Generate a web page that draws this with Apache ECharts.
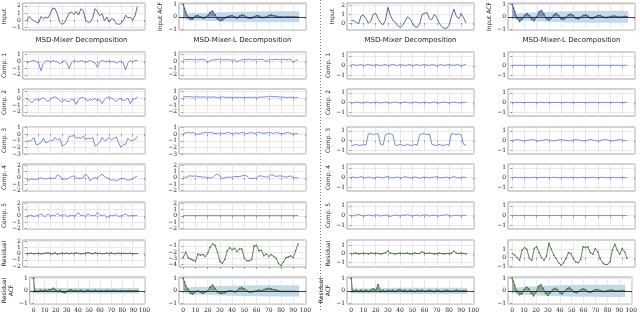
<!DOCTYPE html>
<html lang="en">
<head>
  <meta charset="UTF-8" />
  <title>MSD-Mixer decomposition</title>
  <script src="https://cdn.jsdelivr.net/npm/echarts@6/dist/echarts.min.js"></script>
  <style>html,body{margin:0;padding:0;background:#fff}</style>
</head>
<body>
  <div id="main" style="width:640px;height:328px;"></div>
  <script type="text/javascript">
    // sample positions (every 2nd step) and ACF lags
    const xs = Array.from({ length: 48 }, (_, i) => i * 2)
    const lags = [0, 1].concat(Array.from({ length: 47 }, (_, i) => (i + 1) * 2))
    const bandLags = [1, 2, 4, 8, 16, 24, 32, 48, 64, 80, 95]
    const xTicks = [0, 10, 20, 30, 40, 50, 60, 70, 80, 90, 100]

    // ---- example 1, MSD-Mixer (column 1)
    const aInput = [0.0, 0.5, 0.1, -0.1, -0.3, -0.4, 0.5, 0.2, 0.4, 0.3, 0.9, 1.7, 1.6, 0.8, -0.3, -0.6, -0.4, 0.3, 1.0, 1.1, 0.8, 1.2, 0.7, 1.6, 1.3, 0.0, -0.3, -0.3, 0.3, 1.6, 1.2, 0.6, 0.9, -0.1, 0.4, -0.3, 0.2, 0.1, -0.5, -0.6, -0.5, -0.1, 0.7, 0.3, 0.4, 0.0, 0.6, 1.9]
    const aComp1 = [-0.2, -0.1, 0.05, 0.1, -0.1, -0.3, -1.4, -0.3, 0.0, 0.1, -0.1, 0.1, 0.0, -0.1, -0.4, -0.1, 0.1, -0.2, -1.1, -0.2, 0.1, 0.0, -0.1, 0.1, 0.0, -0.2, 0.0, 0.1, -0.1, -0.2, -0.9, -0.1, 0.1, 0.0, -0.1, 0.1, -0.1, 0.0, -0.3, -0.1, 0.0, -0.2, -1.3, -0.2, 0.1, -0.1, 0.1, 0.1]
    const aComp2 = [0.0, -0.3, -0.7, -0.3, -0.1, -0.4, -0.1, 0.1, -0.2, -0.5, -0.2, 0.1, 0.2, 0.0, -0.3, -0.6, -0.2, -0.4, -0.5, -0.1, -0.3, -0.9, -0.2, 0.1, 0.1, -0.2, -0.4, -0.1, -0.3, 0.0, -0.4, -0.2, -0.8, -0.2, 0.1, 0.2, 0.0, -0.2, -0.5, -0.1, 0.0, -0.4, -0.2, 0.0, -0.8, -0.2, -0.1, 0.2]
    const aComp3 = [-1.0, -1.1, -0.9, -0.5, -1.6, -1.5, -1.3, -0.6, -1.3, -1.2, -0.9, -1.0, -0.5, -0.9, -0.6, -1.8, -1.6, -1.3, -0.3, -0.3, -0.2, -0.6, -0.5, -0.6, -0.3, -0.8, -0.6, -0.7, -0.5, -1.8, -1.6, -1.2, -0.5, -1.0, -0.8, -0.5, -0.9, -0.6, -0.4, -1.3, -2.0, -1.6, -1.5, -0.6, -1.0, -0.9, -0.8, -0.3]
    const aComp4 = [-0.5, -0.3, -0.2, -0.2, -0.3, -0.1, 0.0, -0.1, -0.2, -0.1, 0.0, -0.1, -0.1, 0.5, 0.3, -0.3, -0.2, -0.2, 0.0, 0.2, 0.3, 0.0, -0.1, -0.1, 0.0, 0.6, 0.2, -0.5, -0.1, 0.0, 0.0, 0.3, 0.6, 0.2, 0.0, -0.2, -0.4, -0.3, -0.5, -0.3, -0.1, -0.1, -0.2, -0.4, -0.3, -0.2, 0.1, 0.3]
    const aComp5 = [0.0, 0.0, 0.1, -0.1, 0.0, 0.1, 0.3, 0.0, -0.1, 0.3, 0.0, 0.1, 0.0, 0.4, 0.0, 0.1, 0.2, -0.1, 0.0, 0.1, 0.0, 0.1, 0.5, 0.0, 0.1, -0.1, 0.3, 0.0, 0.1, 0.0, 0.5, 0.1, 0.0, 0.2, -0.3, 0.0, 0.1, 0.0, 0.2, -0.1, 0.0, 0.1, 0.3, 0.0, 0.0, 0.1, 0.0, 0.1]
    const aRes = [0.0, 0.0, 0.05, -0.05, 0.0, 0.05, -0.05, 0.0, 0.05, 0.1, 0.0, -0.05, 0.1, -0.1, 0.0, 0.05, 0.0, 0.05, -0.05, 0.05, 0.0, 0.1, 0.0, -0.05, 0.0, 0.05, 0.15, 0.05, -0.05, 0.1, 0.0, 0.05, -0.05, 0.0, 0.05, 0.0, 0.1, -0.05, 0.0, 0.05, 0.0, 0.05, 0.0, 0.0, 0.05, -0.05, 0.0, 0.0]
    const aResAcf = [1.0, -0.05, 0.02, -0.05, 0.05, -0.03, 0.06, 0.0, 0.08, 0.1, 0.2, 0.05, -0.05, 0.05, -0.1, -0.15, -0.05, 0.05, 0.08, 0.0, 0.05, -0.05, 0.05, 0.0, -0.05, 0.05, 0.03, -0.03, 0.0, 0.05, -0.05, 0.02, 0.0, -0.03, 0.03, 0.0, -0.02, 0.03, 0.0, -0.02, 0.0, 0.02, -0.02, 0.0, 0.02, 0.0, -0.01, 0.0, 0.01]
    const aResBand = [0.22, 0.22, 0.22, 0.22, 0.22, 0.22, 0.22, 0.22, 0.22, 0.22, 0.22]

    // ---- example 1, MSD-Mixer-L (column 2)
    const bInputAcf = [1, 0.65, 0.35, -0.05, -0.2, -0.15, 0.05, 0.1, 0.0, -0.1, -0.05, 0.1, 0.35, 0.45, 0.15, -0.15, -0.3, -0.25, -0.1, 0.0, 0.05, 0.1, 0.0, -0.1, 0.05, 0.15, 0.1, -0.05, -0.1, -0.1, 0.0, 0.1, 0.05, -0.05, -0.05, 0.0, 0.1, 0.15, 0.1, 0.05, 0.0, 0.0, -0.02, 0.0, 0.0, -0.02, 0.0, -0.02, -0.02]
    const bInputBand = [0.18, 0.22, 0.27, 0.3, 0.31, 0.33, 0.37, 0.41, 0.43, 0.44, 0.44]
    const bComp1 = [0.2, 0.25, 0.2, 0.3, 0.2, 0.25, 0.2, 0.25, 0.3, 0.2, -0.2, 0.1, 0.2, 0.2, 0.25, 0.3, 0.2, 0.2, 0.25, 0.2, 0.15, 0.2, -0.1, 0.1, 0.2, 0.25, 0.2, 0.3, 0.2, 0.2, 0.25, 0.2, 0.3, 0.2, -0.1, 0.2, 0.25, 0.2, 0.3, 0.25, 0.2, 0.3, 0.2, 0.25, 0.3, -0.2, 0.1, 0.2]
    const bComp2 = [0.25, 0.2, 0.25, 0.2, 0.15, 0.2, 0.2, 0.15, 0.2, 0.15, 0.2, 0.15, 0.2, 0.15, 0.1, 0.15, 0.2, 0.15, 0.1, 0.15, 0.1, 0.15, 0.1, 0.15, 0.1, 0.15, 0.1, 0.15, 0.1, 0.15, 0.1, 0.15, 0.2, 0.15, 0.25, 0.2, 0.3, 0.2, 0.25, 0.2, 0.15, 0.2, 0.1, 0.15, 0.1, 0.15, 0.1, 0.1]
    const bComp3 = [0.1, 0.2, 0.3, 0.2, 0.25, 0.1, 0.0, 0.05, 0.2, 0.3, 0.2, 0.3, 0.2, 0.1, 0.1, 0.2, 0.15, 0.1, 0.3, 0.2, 0.1, 0.15, 0.2, 0.1, 0.3, 0.2, 0.1, 0.2, 0.3, 0.1, 0.2, 0.3, 0.2, 0.1, 0.2, 0.3, 0.2, 0.1, 0.3, 0.2, 0.1, 0.1, 0.2, 0.3, 0.1, 0.05, 0.1, 0.1]
    const bComp4 = [0.2, 0.0, 0.3, 0.3, 0.25, 0.3, 0.2, 0.2, 0.1, 0.1, 0.05, 0.0, 0.0, 0.4, 0.6, 0.3, -0.1, 0.0, 0.1, 0.1, 0.1, 0.2, 0.2, 0.2, 0.3, 0.4, 0.3, -0.1, -0.1, -0.1, 0.0, 0.3, 0.3, 0.2, 0.1, 0.2, 0.5, 0.4, 0.2, 0.3, 0.3, 0.2, 0.1, 0.2, 0.3, 0.1, 0.0, 0.0]
    const bComp5 = [0.06, 0.05, 0.05, 0.04, 0.05, 0.05, 0.04, 0.05, 0.05, 0.04, 0.04, 0.05, 0.05, 0.04, 0.05, 0.05, 0.04, 0.04, 0.05, 0.05, 0.04, 0.05, 0.04, 0.04, 0.05, 0.05, 0.04, 0.04, 0.05, 0.05, 0.04, 0.05, 0.04, 0.04, 0.05, 0.05, 0.04, 0.05, 0.04, 0.04, 0.05, 0.05, 0.04, 0.05, 0.04, 0.04, 0.05, 0.05]
    const bRes = [-2.85, -2.0, -2.9, -3.1, -3.3, -3.5, -2.3, -2.5, -2.4, -2.7, -2.2, -1.2, -0.7, -0.9, -2.0, -3.5, -3.8, -3.2, -1.8, -1.3, -1.6, -1.4, -1.9, -1.5, -1.5, -3.0, -3.4, -3.4, -3.2, -1.0, -0.9, -1.8, -1.7, -2.6, -2.3, -2.7, -2.4, -2.7, -3.0, -3.8, -4.2, -3.6, -2.9, -2.8, -2.6, -2.9, -1.8, -0.7]
    const bResAcf = [1, 0.7, 0.4, 0.1, -0.2, -0.25, -0.1, 0.0, -0.1, -0.2, -0.1, 0.0, 0.3, 0.45, 0.2, -0.1, -0.2, -0.2, -0.15, -0.05, 0.0, 0.0, -0.1, 0.0, 0.2, 0.25, 0.15, 0.0, -0.1, -0.1, -0.05, 0.0, 0.05, 0.0, 0.1, 0.15, 0.2, 0.15, 0.1, 0.05, 0.0, -0.05, -0.05, -0.05, -0.05, -0.05, -0.05, -0.05, -0.05]
    const bResBand = [0.18, 0.22, 0.27, 0.3, 0.31, 0.34, 0.38, 0.42, 0.44, 0.45, 0.45]

    // ---- example 2, MSD-Mixer (column 3)
    const cInput = [0.3, 0.3, 0.1, -0.1, 0.8, 0.9, 0.5, 0.0, 0.2, 1.0, 1.1, 0.5, 0.0, -0.2, 0.3, 1.8, 0.9, 0.3, 0.1, -0.3, -0.5, -0.3, 0.2, 0.7, 0.5, 0.0, -0.4, -0.5, -0.1, 1.0, 1.1, 1.2, 0.5, 0.4, 1.0, 0.6, 0.0, -0.4, -0.6, -0.6, -0.3, 0.7, 1.6, 0.8, 0.5, 1.1, 0.6, 0.0]
    const cComp1 = [0.05, 0.1, 0.0, 0.05, 0.1, 0.0, 0.05, 0.1, 0.05, 0.0, 0.1, 0.05, 0.0, 0.05, 0.1, 0.0, 0.05, 0.1, 0.05, 0.0, 0.1, 0.05, 0.0, 0.05, 0.1, 0.0, 0.05, 0.1, 0.0, 0.05, 0.1, 0.05, 0.0, 0.1, 0.05, 0.0, 0.05, 0.1, 0.0, 0.05, 0.1, 0.05, 0.0, 0.1, 0.05, 0.0, 0.05, 0.1]
    const cComp2 = [0.0, -0.05, 0.05, 0.0, -0.05, 0.0, 0.05, 0.0, -0.05, 0.0, 0.05, 0.0, -0.05, 0.0, 0.05, 0.0, -0.05, 0.0, 0.05, 0.0, -0.05, 0.0, 0.05, 0.0, -0.05, 0.0, 0.05, 0.0, -0.05, 0.0, 0.05, 0.0, -0.05, 0.0, 0.05, 0.0, -0.05, 0.0, 0.05, 0.0, -0.05, 0.0, 0.05, 0.0, -0.05, 0.0, 0.05, 0.0]
    const cComp3 = [-0.5, -0.5, -0.4, -0.5, -0.5, -0.4, -0.5, 0.7, 0.7, 0.6, 0.7, 0.7, -0.4, -0.5, 0.6, 0.7, 0.7, 0.6, -0.5, -0.5, -0.4, -0.5, -0.5, -0.4, -0.5, -0.5, -0.4, -0.5, 0.6, 0.7, 0.7, 0.6, 0.7, -0.4, -0.5, -0.5, -0.4, -0.5, -0.5, -0.4, -0.5, 0.7, 0.7, 0.6, 0.7, 0.6, -0.4, -0.5]
    const cComp4 = [0.0, 0.05, -0.05, 0.0, 0.1, 0.0, -0.05, 0.05, 0.0, -0.1, 0.0, 0.05, 0.0, -0.05, 0.05, 0.1, 0.0, -0.05, 0.0, 0.05, -0.05, 0.0, 0.1, 0.0, -0.05, 0.0, 0.05, 0.0, -0.1, 0.0, 0.05, 0.0, -0.05, 0.05, 0.0, 0.1, 0.0, -0.05, 0.0, 0.05, -0.05, 0.0, 0.1, 0.0, -0.05, 0.0, 0.05, 0.0]
    const cComp5 = [0.0, -0.05, 0.05, 0.1, 0.0, -0.05, 0.0, 0.05, 0.0, -0.05, 0.1, 0.0, -0.05, 0.0, 0.05, 0.0, -0.1, 0.0, 0.05, 0.0, -0.05, 0.05, 0.0, 0.1, 0.0, -0.05, 0.0, 0.05, -0.05, 0.0, 0.1, 0.0, -0.05, 0.0, 0.05, 0.0, -0.05, 0.05, 0.0, 0.1, 0.0, -0.05, 0.0, 0.05, 0.0, -0.05, 0.05, 0.0]
    const cRes = [0.0, 0.0, 0.05, -0.05, 0.0, 0.05, 0.0, -0.05, 0.05, 0.0, 0.05, 0.0, -0.05, 0.0, 0.1, 0.3, 0.05, 0.0, -0.05, 0.0, 0.05, 0.0, 0.0, 0.05, -0.05, 0.0, 0.05, 0.0, 0.0, 0.2, 0.05, 0.0, 0.05, 0.0, -0.05, 0.0, 0.05, 0.0, -0.05, 0.0, 0.0, 0.05, 0.3, 0.05, 0.0, 0.05, 0.0, -0.05]
    const cResAcf = [1.0, -0.05, -0.05, 0.05, -0.05, 0.05, -0.05, 0.05, -0.05, 0.05, 0.15, 0.05, 0.5, -0.05, 0.05, -0.05, 0.05, 0.0, 0.05, -0.05, 0.05, 0.1, 0.0, 0.05, -0.05, 0.05, 0.0, -0.05, 0.05, 0.0, 0.05, -0.05, 0.0, 0.05, 0.0, -0.05, 0.05, 0.0, -0.05, 0.0, 0.05, 0.0, -0.05, 0.0, 0.05, 0.0, -0.03, 0.0, 0.02]
    const cResBand = [0.2, 0.2, 0.2, 0.21, 0.21, 0.21, 0.24, 0.25, 0.25, 0.25, 0.25]

    // ---- example 2, MSD-Mixer-L (column 4)
    const dInputAcf = [1, 0.7, 0.4, -0.1, -0.35, -0.2, 0.1, 0.25, 0.1, -0.2, -0.3, 0.0, 0.4, 0.5, 0.2, -0.15, -0.25, -0.1, 0.15, 0.25, 0.1, -0.15, -0.2, -0.05, 0.15, 0.2, 0.1, -0.1, -0.15, -0.05, 0.1, 0.15, 0.05, -0.1, -0.1, 0.0, 0.1, 0.1, 0.0, -0.05, -0.05, 0.0, 0.05, 0.05, 0.0, -0.03, 0.0, 0.03, 0.0]
    const dInputBand = [0.18, 0.23, 0.27, 0.3, 0.34, 0.37, 0.41, 0.45, 0.47, 0.48, 0.48]
    const dComp1 = [0.02, 0.03, 0.02, 0.03, 0.02, 0.02, 0.03, 0.02, 0.03, 0.02, 0.02, 0.03, 0.02, 0.03, 0.02, 0.02, 0.03, 0.02, 0.03, 0.02, 0.02, 0.03, 0.02, 0.03, 0.02, 0.02, 0.03, 0.02, 0.03, 0.02, 0.02, 0.03, 0.02, 0.03, 0.02, 0.02, 0.03, 0.02, 0.03, 0.02, 0.02, 0.03, 0.02, 0.03, 0.02, 0.02, 0.03, 0.02]
    const dComp2 = [0.0, 0.01, 0.0, 0.01, 0.0, 0.0, 0.01, 0.0, 0.01, 0.0, 0.0, 0.01, 0.0, 0.01, 0.0, 0.0, 0.01, 0.0, 0.01, 0.0, 0.0, 0.01, 0.0, 0.01, 0.0, 0.0, 0.01, 0.0, 0.01, 0.0, 0.0, 0.01, 0.0, 0.01, 0.0, 0.0, 0.01, 0.0, 0.01, 0.0, 0.0, 0.01, 0.0, 0.01, 0.0, 0.0, 0.01, 0.0]
    const dComp3 = [0.0, 0.05, 0.1, 0.05, 0.0, -0.05, 0.0, 0.05, 0.1, 0.05, 0.0, -0.05, 0.0, 0.05, 0.1, 0.05, 0.0, -0.05, 0.0, 0.05, 0.1, 0.05, 0.0, -0.05, 0.0, 0.05, 0.1, 0.05, 0.0, -0.05, 0.0, 0.05, 0.1, 0.05, 0.0, -0.05, 0.0, 0.05, 0.1, 0.05, 0.0, -0.05, 0.0, 0.05, 0.1, 0.05, 0.0, -0.05]
    const dComp4 = [0.0, 0.02, 0.0, -0.02, 0.0, 0.02, 0.0, -0.02, 0.0, 0.02, 0.0, -0.02, 0.0, 0.02, 0.0, -0.02, 0.0, 0.02, 0.0, -0.02, 0.0, 0.02, 0.0, -0.02, 0.0, 0.02, 0.0, -0.02, 0.0, 0.02, 0.0, -0.02, 0.0, 0.02, 0.0, -0.02, 0.0, 0.02, 0.0, -0.02, 0.0, 0.02, 0.0, -0.02, 0.0, 0.02, 0.0, -0.02]
    const dComp5 = [0.0, 0.01, 0.0, -0.01, 0.0, 0.01, 0.0, -0.01, 0.0, 0.01, 0.0, -0.01, 0.0, 0.01, 0.0, -0.01, 0.0, 0.01, 0.0, -0.01, 0.0, 0.01, 0.0, -0.01, 0.0, 0.01, 0.0, -0.01, 0.0, 0.01, 0.0, -0.01, 0.0, 0.01, 0.0, -0.01, 0.0, 0.01, 0.0, -0.01, 0.0, 0.01, 0.0, -0.01, 0.0, 0.01, 0.0, -0.01]
    const dRes = [0.5, 0.3, 0.0, -0.3, 0.9, 1.2, 1.0, -0.1, -0.3, 1.1, 1.3, 0.6, 0.0, -0.3, 0.2, 1.7, 1.0, 0.3, -0.1, -0.6, -0.9, -0.6, -0.1, 0.6, 0.5, -0.1, -0.5, -0.6, -0.2, 1.3, 1.2, 1.3, 0.6, 0.4, 1.1, 0.7, -0.1, -0.6, -0.8, -0.8, -0.5, 0.9, 1.6, 0.9, 0.4, 1.1, 0.7, -0.1]
    const dResAcf = [1, 0.75, 0.45, -0.05, -0.3, -0.25, 0.1, 0.3, 0.15, -0.2, -0.4, -0.1, 0.35, 0.5, 0.2, -0.2, -0.35, -0.15, 0.1, 0.2, 0.1, -0.15, -0.25, -0.05, 0.15, 0.25, 0.1, -0.1, -0.15, -0.05, 0.1, 0.15, 0.05, -0.1, -0.1, 0.0, 0.1, 0.1, 0.0, -0.05, -0.05, 0.0, 0.05, 0.05, 0.0, -0.03, 0.0, 0.02, 0.0]
    const dResBand = [0.18, 0.23, 0.27, 0.3, 0.34, 0.38, 0.42, 0.46, 0.48, 0.49, 0.49]

    // layout
    const colLeft = [18, 179, 347, 508]
    const colWidth = 127
    const rowTop = [3, 52, 89, 127, 164, 202, 240, 277]
    const rowHeight = 27

    const inputColor = '#3a5f8c'
    const compColor = '#6680d8'
    const resColor = '#4d7744'
    const bandColor = '#c3d8ea'
    const serif = 'DejaVu Serif'
    const sans = 'DejaVu Sans'

    var myChart = echarts.init(document.getElementById('main'))
    const grids = [], xAxes = [], yAxes = [], series = []

    function fmt(v) {
      return v < 0 ? '\u2212' + Math.abs(v) : String(v)
    }

    // one subplot: grid + axes
    function addPanel(col, row, name, yMin, yMax, yTicks) {
      const i = grids.length
      grids.push({
        left: colLeft[col], top: rowTop[row], width: colWidth, height: rowHeight,
        show: true, borderColor: '#8f8f8f', borderWidth: 0.8
      })
      xAxes.push({
        type: 'value', gridIndex: i, min: -3.5, max: 100.5,
        axisLine: { show: false },
        axisTick: { show: true, length: 2, customValues: xTicks, lineStyle: { color: '#666', width: 0.6 } },
        axisLabel: {
          show: row === 7, customValues: xTicks, hideOverlap: false,
          showMinLabel: true, showMaxLabel: true,
          fontFamily: serif, fontSize: 6, color: '#222', margin: 3
        },
        splitLine: { show: true, lineStyle: { color: '#e3e3e3', width: 0.8 } }
      })
      yAxes.push({
        type: 'value', gridIndex: i, min: yMin, max: yMax,
        name: name, nameLocation: 'middle', nameGap: col < 2 ? 9 : 11,
        nameTextStyle: { fontFamily: sans, fontSize: 6, color: '#222', lineHeight: 7 },
        axisLine: { show: false },
        axisTick: { show: true, length: 2, customValues: yTicks, lineStyle: { color: '#666', width: 0.6 } },
        axisLabel: {
          customValues: yTicks, hideOverlap: false, formatter: fmt,
          showMinLabel: true, showMaxLabel: true,
          fontFamily: serif, fontSize: 6, lineHeight: 6, color: '#222', margin: 2
        },
        splitLine: { show: true, lineStyle: { color: '#e3e3e3', width: 0.8 } }
      })
      return i
    }

    function addLine(i, ys, color, dots) {
      series.push({
        type: 'line', xAxisIndex: i, yAxisIndex: i, silent: true,
        data: ys.map((y, k) => [xs[k], y]),
        showSymbol: !!dots, symbol: 'circle', symbolSize: 1.6,
        itemStyle: { color: color },
        lineStyle: { color: color, width: 0.9 }
      })
    }

    function addAcf(i, vals, band, color) {
      const up = band.map((w, k) => [bandLags[k], w])
      const lo = band.map((w, k) => [bandLags[k], -w])
      ;[up, lo].forEach(d => series.push({
        type: 'line', xAxisIndex: i, yAxisIndex: i, silent: true, data: d,
        showSymbol: false, lineStyle: { width: 0 },
        areaStyle: { color: bandColor, opacity: 1 }
      }))
      series.push({
        type: 'line', xAxisIndex: i, yAxisIndex: i, silent: true,
        data: vals.map((v, k) => [lags[k], v]),
        showSymbol: true, symbol: 'circle', symbolSize: 1.8,
        itemStyle: { color: color },
        lineStyle: { color: color, width: 0.9 },
        areaStyle: { color: color, opacity: 0.55 },
        markLine: {
          silent: true, symbol: 'none', label: { show: false },
          lineStyle: { color: '#1a1a1a', width: 0.8, type: 'solid' },
          data: [{ yAxis: 0 }]
        }
      })
    }

    const acfRange = [-1.05, 1.1], acfTicks = [-1, 0, 1]

    // column 1
    addLine(addPanel(0, 0, 'Input', -1.4, 2.4, [-1, 0, 1, 2]), aInput, inputColor)
    addLine(addPanel(0, 1, 'Comp. 1', -2.6, 1.35, [-2, -1, 0, 1]), aComp1, compColor)
    addLine(addPanel(0, 2, 'Comp. 2', -2.6, 1.35, [-2, -1, 0, 1]), aComp2, compColor)
    addLine(addPanel(0, 3, 'Comp. 3', -3.0, 1.1, [-3, -2, -1, 0, 1]), aComp3, compColor)
    addLine(addPanel(0, 4, 'Comp. 4', -2.1, 2.2, [-2, -1, 0, 1, 2]), aComp4, compColor)
    addLine(addPanel(0, 5, 'Comp. 5', -2.1, 2.2, [-2, -1, 0, 1, 2]), aComp5, compColor)
    addLine(addPanel(0, 6, 'Residual', -2.15, 2.15, [-2, -1, 0, 1, 2]), aRes, resColor, true)
    addAcf(addPanel(0, 7, 'Residual\nACF', acfRange[0], acfRange[1], acfTicks), aResAcf, aResBand, resColor)

    // column 2
    addAcf(addPanel(1, 0, 'Input ACF', acfRange[0], acfRange[1], acfTicks), bInputAcf, bInputBand, inputColor)
    addLine(addPanel(1, 1, '', -2.6, 1.35, [-2, -1, 0, 1]), bComp1, compColor)
    addLine(addPanel(1, 2, '', -2.6, 1.35, [-2, -1, 0, 1]), bComp2, compColor)
    addLine(addPanel(1, 3, '', -3.0, 1.1, [-3, -2, -1, 0, 1]), bComp3, compColor)
    addLine(addPanel(1, 4, '', -2.1, 2.2, [-2, -1, 0, 1, 2]), bComp4, compColor)
    addLine(addPanel(1, 5, '', -2.1, 2.2, [-2, -1, 0, 1, 2]), bComp5, compColor)
    addLine(addPanel(1, 6, '', -4.4, -0.05, [-4, -3, -2, -1]), bRes, resColor, true)
    addAcf(addPanel(1, 7, '', acfRange[0], acfRange[1], acfTicks), bResAcf, bResBand, resColor)

    // column 3
    addLine(addPanel(2, 0, 'Input', -0.8, 2.3, [0, 1, 2]), cInput, inputColor)
    addLine(addPanel(2, 1, 'Comp. 1', -1.4, 1.4, [-1, 0, 1]), cComp1, compColor)
    addLine(addPanel(2, 2, 'Comp. 2', -1.4, 1.4, [-1, 0, 1]), cComp2, compColor)
    addLine(addPanel(2, 3, 'Comp. 3', -1.4, 1.4, [-1, 0, 1]), cComp3, compColor)
    addLine(addPanel(2, 4, 'Comp. 4', -1.4, 1.4, [-1, 0, 1]), cComp4, compColor)
    addLine(addPanel(2, 5, 'Comp. 5', -1.4, 1.4, [-1, 0, 1]), cComp5, compColor)
    addLine(addPanel(2, 6, 'Residual', -1.6, 1.6, [-1, 0, 1]), cRes, resColor, true)
    addAcf(addPanel(2, 7, 'Residual\nACF', acfRange[0], acfRange[1], acfTicks), cResAcf, cResBand, resColor)

    // column 4
    addAcf(addPanel(3, 0, 'Input ACF', acfRange[0], acfRange[1], acfTicks), dInputAcf, dInputBand, inputColor)
    addLine(addPanel(3, 1, '', -1.4, 1.4, [-1, 0, 1]), dComp1, compColor)
    addLine(addPanel(3, 2, '', -1.4, 1.4, [-1, 0, 1]), dComp2, compColor)
    addLine(addPanel(3, 3, '', -1.4, 1.4, [-1, 0, 1]), dComp3, compColor)
    addLine(addPanel(3, 4, '', -1.4, 1.4, [-1, 0, 1]), dComp4, compColor)
    addLine(addPanel(3, 5, '', -1.4, 1.4, [-1, 0, 1]), dComp5, compColor)
    addLine(addPanel(3, 6, '', -1.1, 2.1, [-1, 0, 1]), dRes, resColor, true)
    addAcf(addPanel(3, 7, '', acfRange[0], acfRange[1], acfTicks), dResAcf, dResBand, resColor)

    // section titles + dotted divider
    const titles = ['MSD-Mixer Decomposition', 'MSD-Mixer-L Decomposition', 'MSD-Mixer Decomposition', 'MSD-Mixer-L Decomposition']
    const graphic = titles.map((t, c) => ({
      type: 'text', x: colLeft[c] + colWidth / 2, y: 37,
      style: { text: t, fontFamily: sans, fontSize: 7, fill: '#222', textAlign: 'center' }
    }))
    graphic.push({
      type: 'line', shape: { x1: 320.5, y1: 0, x2: 320.5, y2: 312 },
      style: { stroke: '#777', lineWidth: 1, lineDash: [1, 2] }
    })

    var option = {
      animation: false,
      grid: grids,
      xAxis: xAxes,
      yAxis: yAxes,
      series: series,
      graphic: graphic
    }
    myChart.setOption(option)
  </script>
</body>
</html>
